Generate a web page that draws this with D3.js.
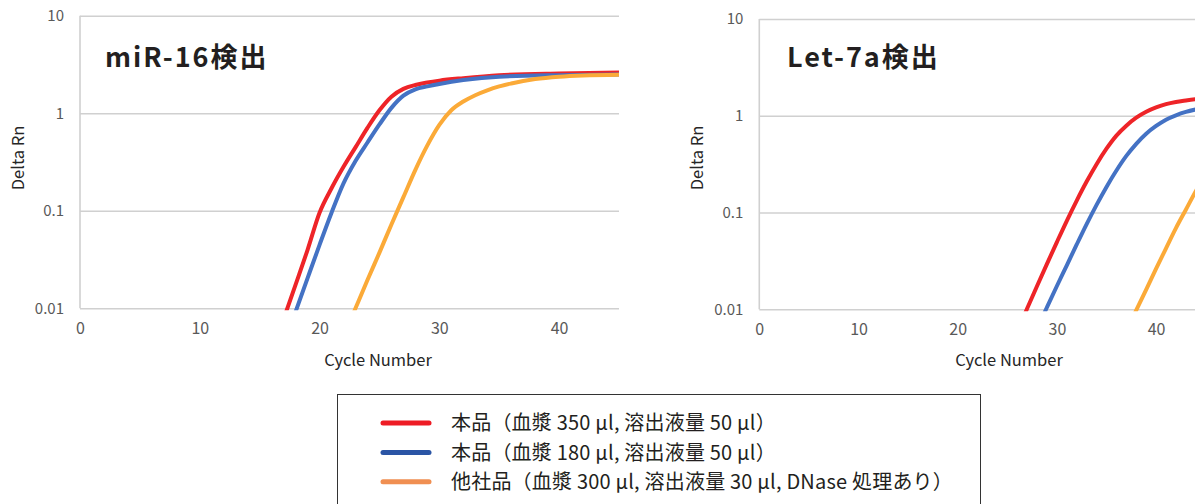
<!DOCTYPE html>
<html><head><meta charset="utf-8">
<script src="https://cdn.jsdelivr.net/npm/d3@7"></script>
<style>
html,body{margin:0;padding:0;background:#fff;}
svg{display:block;font-family:"Noto Sans CJK JP","Noto Sans",sans-serif;}
</style></head>
<body>
<svg id="chart" width="1195" height="504"></svg>
<script>
// ---- data ----
const xTicks = [0, 10, 20, 30, 40];
const yTicks = [0.01, 0.1, 1, 10];
const yTickLabels = ["0.01", "0.1", "1", "10"];
const seriesNames = ["本品（血漿 350 μl, 溶出液量 50 μl）", "本品（血漿 180 μl, 溶出液量 50 μl）", "他社品（血漿 300 μl, 溶出液量 30 μl, DNase 処理あり）"];
const panelTitles = ["miR-16検出", "Let-7a検出"];

// miR-16 panel
const mirRedCycles = [17, 18, 19, 20, 21, 22, 23, 24, 25, 26, 27, 28, 29, 30, 32, 35, 40, 45];
const mirRedValues = [0.00776, 0.0175, 0.0398, 0.0955, 0.170, 0.282, 0.447, 0.708, 1.072, 1.479, 1.778, 1.95, 2.065, 2.158, 2.29, 2.455, 2.559, 2.61];
const mirBlueCycles = [18, 19, 20, 21, 22, 23, 24, 25, 26, 27, 28, 29, 30, 32, 35, 40, 45];
const mirBlueValues = [0.00923, 0.0204, 0.0447, 0.0955, 0.191, 0.324, 0.501, 0.767, 1.135, 1.514, 1.758, 1.884, 1.995, 2.188, 2.371, 2.455, 2.489];
const mirOrangeCycles = [22, 23, 24, 25, 26, 27, 28, 29, 30, 31, 32, 33, 34, 35, 36, 37, 38, 40, 42, 45];
const mirOrangeValues = [0.0051, 0.010, 0.0195, 0.0372, 0.0724, 0.138, 0.263, 0.468, 0.759, 1.072, 1.318, 1.531, 1.718, 1.884, 2.018, 2.138, 2.239, 2.371, 2.443, 2.483];

// Let-7a panel
const letRedCycles = [26, 27, 28, 29, 30, 31, 32, 33, 34, 35, 36, 37, 38, 39, 40, 41, 42, 43, 44, 45];
const letRedValues = [0.00589, 0.0102, 0.0174, 0.0295, 0.0495, 0.0822, 0.133, 0.209, 0.316, 0.457, 0.624, 0.79, 0.955, 1.10, 1.22, 1.32, 1.39, 1.44, 1.485, 1.52];
const letBlueCycles = [28, 29, 30, 31, 32, 33, 34, 35, 36, 37, 38, 39, 40, 41, 42, 43, 44, 45];
const letBlueValues = [0.0063, 0.0105, 0.0174, 0.0285, 0.0468, 0.0759, 0.120, 0.184, 0.272, 0.385, 0.513, 0.653, 0.785, 0.912, 1.012, 1.096, 1.161, 1.216];
const letOrangeCycles = [37, 38, 39, 40, 41, 42, 43, 44, 45];
const letOrangeValues = [0.006, 0.0098, 0.016, 0.0263, 0.0427, 0.069, 0.107, 0.166, 0.25];

const lineColors = ["#EE2428", "#4472C4", "#FBAA38"];
const legendColors = ["#EE1C25", "#2B55A5", "#F08F52"];

const panels = [
  { title: panelTitles[0], x0: 80, x1: 619, yTop: 15.7, yBot: 308.3, titleX: 105, yTitleX: 18, xTitleX: 378,
    series: [[mirRedCycles, mirRedValues], [mirBlueCycles, mirBlueValues], [mirOrangeCycles, mirOrangeValues]] },
  { title: panelTitles[1], x0: 759.3, x1: 1205.7, yTop: 19, yBot: 309.3, titleX: 787, yTitleX: 697, xTitleX: 1009,
    series: [[letRedCycles, letRedValues], [letBlueCycles, letBlueValues], [letOrangeCycles, letOrangeValues]] }
];

const svg = d3.select("#chart");
const defs = svg.append("defs");

panels.forEach((p, i) => {
  const x = d3.scaleLinear().domain([0, 45]).range([p.x0, p.x1]);
  const y = d3.scaleLog().domain([0.01, 10]).range([p.yBot, p.yTop]);
  const g = svg.append("g");

  // gridlines
  const grid = g.append("g").attr("transform", `translate(${p.x0},0)`)
    .call(d3.axisLeft(y).tickValues(yTicks).tickSize(-(p.x1 - p.x0)).tickFormat(""));
  grid.select(".domain").remove();
  grid.selectAll(".tick line").attr("stroke", "#D0D0D0").attr("stroke-width", 1.6);

  // vertical axis line
  g.append("line").attr("x1", p.x0).attr("x2", p.x0).attr("y1", y(10)).attr("y2", y(0.01))
    .attr("stroke", "#D0D0D0").attr("stroke-width", 1.6);

  // y tick labels
  const ya = g.append("g").attr("transform", `translate(${p.x0},0)`)
    .call(d3.axisLeft(y).tickValues(yTicks).tickSize(0).tickPadding(16)
      .tickFormat((d) => yTickLabels[yTicks.indexOf(d)]));
  ya.select(".domain").remove();
  ya.selectAll("text").attr("fill", "#595959").style("font-size", "15px")
    .style("font-family", '"Noto Sans CJK JP", sans-serif');

  // x tick labels
  const xa = g.append("g").attr("transform", `translate(0,${p.yBot})`)
    .call(d3.axisBottom(x).tickValues(xTicks).tickSize(0).tickPadding(14));
  xa.select(".domain").remove();
  xa.selectAll("text").attr("fill", "#595959").style("font-size", "16px")
    .style("font-family", '"Noto Sans CJK JP", sans-serif');

  // axis titles
  g.append("text").attr("x", p.xTitleX).attr("y", 366).attr("text-anchor", "middle")
    .attr("fill", "#262626").style("font-size", "16.5px").text("Cycle Number");
  g.append("text").attr("transform", `translate(${p.yTitleX + 6},158) rotate(-90)`)
    .attr("text-anchor", "middle").attr("fill", "#262626").style("font-size", "16.5px").text("Delta Rn");

  // clip
  const cid = "clip" + i;
  defs.append("clipPath").attr("id", cid).append("rect")
    .attr("x", p.x0).attr("y", p.yTop - 10).attr("width", p.x1 - p.x0 + 4).attr("height", p.yBot - p.yTop + 12);

  const line = d3.line().x((d) => x(d[0])).y((d) => y(d[1])).curve(d3.curveMonotoneX);
  const lg = g.append("g").attr("clip-path", `url(#${cid})`);
  p.series.forEach((s, k) => {
    const pts = s[0].map((c, j) => [c, s[1][j]]);
    lg.append("path").datum(pts).attr("d", line).attr("fill", "none")
      .attr("stroke", lineColors[k]).attr("stroke-width", 4).attr("stroke-linejoin", "round");
  });

  // panel title
  g.append("text").attr("x", p.titleX).attr("y", 67).attr("fill", "#231F20")
    .style("font-size", "27px").style("font-weight", "bold").style("letter-spacing", "2px").text(p.title);
});

// legend
const leg = svg.append("g");
leg.append("rect").attr("x", 337.5).attr("y", 394.5).attr("width", 643).attr("height", 130)
  .attr("fill", "#fff").attr("stroke", "#333").attr("stroke-width", 1);
const legY = [423, 452.5, 481.7];
seriesNames.forEach((name, k) => {
  leg.append("line").attr("x1", 383).attr("x2", 429).attr("y1", legY[k]).attr("y2", legY[k])
    .attr("stroke", legendColors[k]).attr("stroke-width", 5).attr("stroke-linecap", "round");
  leg.append("text").attr("x", 451).attr("y", legY[k]).attr("dy", "0.36em")
    .attr("fill", "#231F20").style("font-size", "20px").style("letter-spacing", "0.2px").text(name);
});
</script>
</body></html>
